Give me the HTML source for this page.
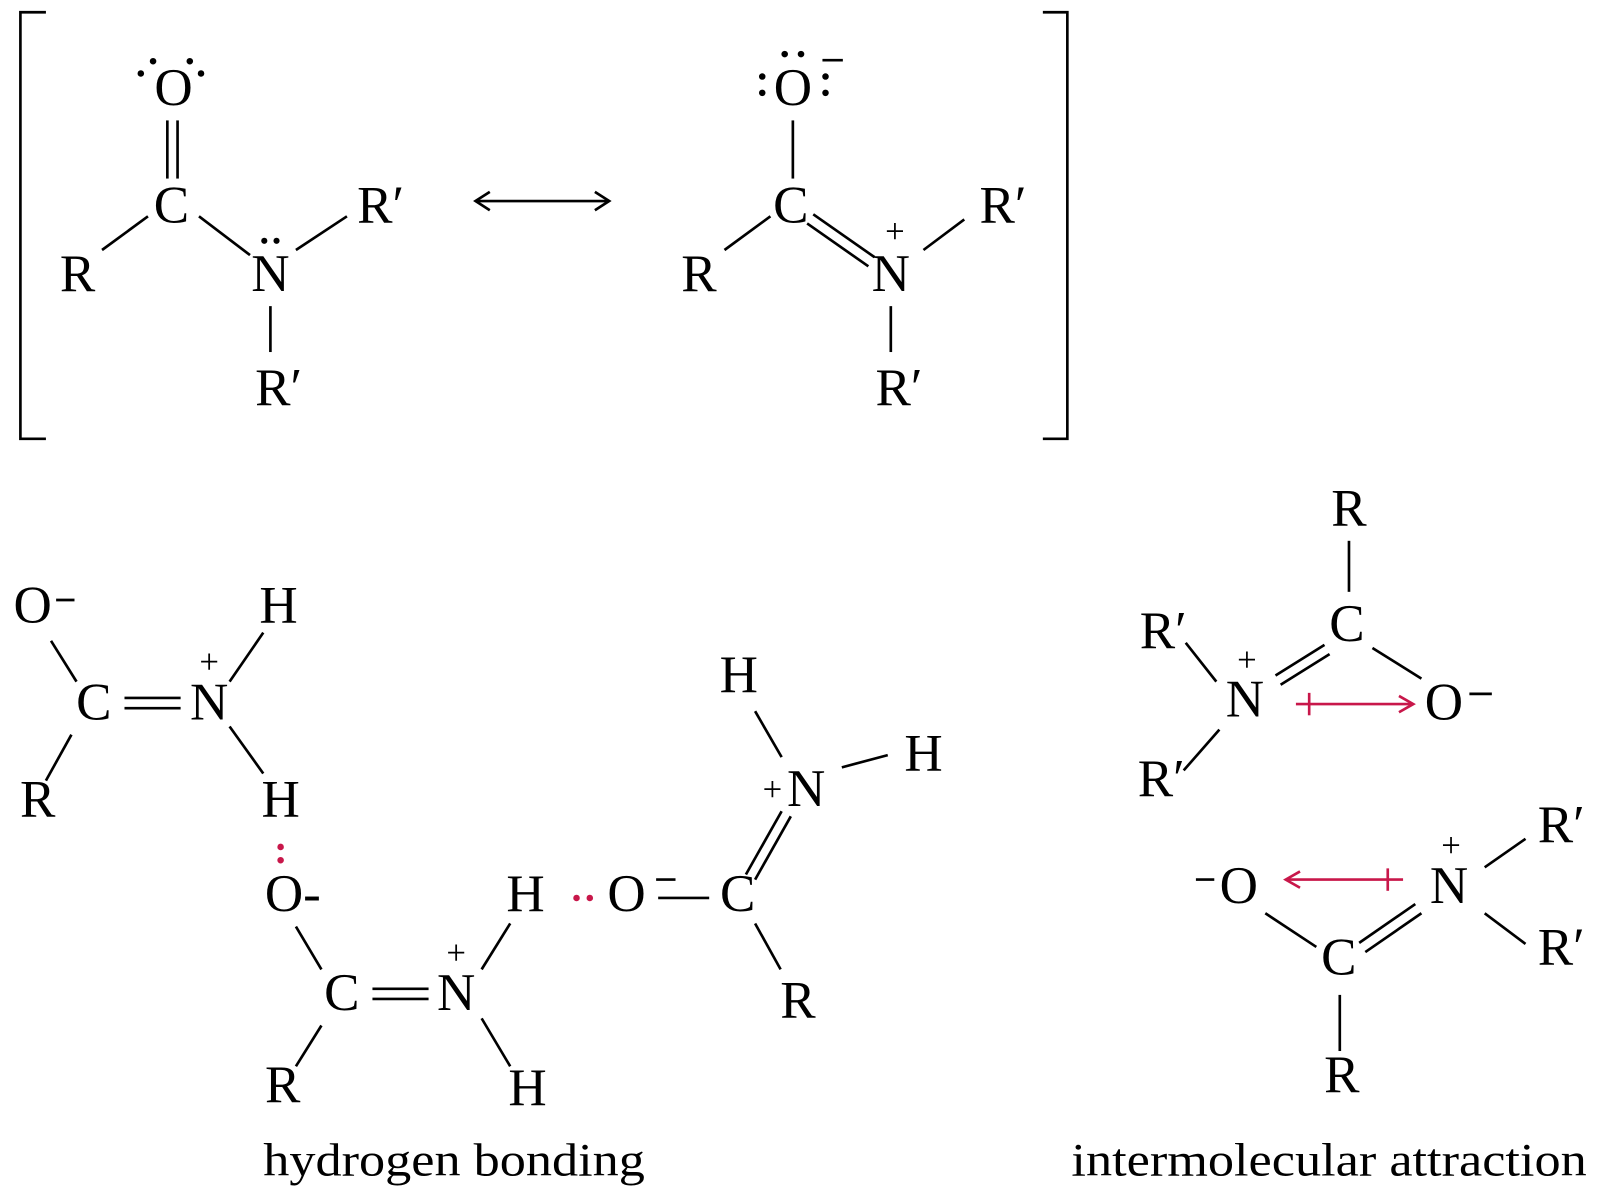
<!DOCTYPE html>
<html><head><meta charset="utf-8"><style>
html,body{margin:0;padding:0;background:#fff;}
svg{display:block;}
text{font-family:"Liberation Serif",serif;font-size:52px;fill:#000;}
.s{font-size:34px;}
.l{font-size:46px;}
line,path{stroke:#000;stroke-width:2.6;fill:none;}
.r{stroke:#c8174a;}
.d{fill:#000;}
.rd{fill:#c8174a;}
</style></head><body>
<svg width="1600" height="1200" viewBox="0 0 1568 1176" xmlns="http://www.w3.org/2000/svg">
<!-- brackets -->
<path d="M45,12 H20 V430 H45"/>
<path d="M1022,12 H1046 V430 H1022"/>

<!-- molecule 1 -->
<text x="170" y="103" text-anchor="middle">O</text>
<circle class="d" cx="138" cy="72" r="3.2"/><circle class="d" cx="150" cy="60" r="3.2"/>
<circle class="d" cx="186" cy="60" r="3.2"/><circle class="d" cx="197" cy="72" r="3.2"/>
<line x1="164" y1="118" x2="164" y2="175"/><line x1="174" y1="118" x2="174" y2="175"/>
<text x="168" y="218" text-anchor="middle">C</text>
<text x="76" y="285" text-anchor="middle">R</text>
<line x1="100" y1="245" x2="145" y2="212"/>
<line x1="195" y1="212" x2="245" y2="250"/>
<text x="265" y="285" text-anchor="middle">N</text>
<circle class="d" cx="259" cy="236" r="3"/><circle class="d" cx="271" cy="236" r="3"/>
<line x1="290" y1="245" x2="340" y2="212"/>
<text x="373" y="218" text-anchor="middle">R′</text>
<line x1="265" y1="300" x2="265" y2="345"/>
<text x="273" y="397" text-anchor="middle">R′</text>

<!-- resonance arrow -->
<line x1="467" y1="197" x2="596" y2="197"/>
<path d="M480,188 L466,197 L480,206"/><path d="M583,188 L597,197 L583,206"/>

<!-- molecule 2 -->
<text x="777" y="103" text-anchor="middle">O</text>
<circle class="d" cx="769" cy="53" r="3.2"/><circle class="d" cx="785" cy="53" r="3.2"/>
<circle class="d" cx="747" cy="75" r="3.2"/><circle class="d" cx="747" cy="91" r="3.2"/>
<circle class="d" cx="809" cy="75" r="3.2"/><circle class="d" cx="809" cy="91" r="3.2"/>
<line x1="806" y1="59" x2="826" y2="59"/>
<line x1="777" y1="118" x2="777" y2="175"/>
<text x="775" y="218" text-anchor="middle">C</text>
<text x="685" y="285" text-anchor="middle">R</text>
<line x1="710" y1="245" x2="755" y2="212"/>
<line x1="797" y1="210" x2="857" y2="252"/><line x1="791" y1="219" x2="851" y2="261"/>
<text x="873" y="285" text-anchor="middle">N</text>
<text class="s" x="877" y="238" text-anchor="middle">+</text>
<line x1="905" y1="245" x2="945" y2="215"/>
<text x="983" y="218" text-anchor="middle">R′</text>
<line x1="873" y1="300" x2="873" y2="345"/>
<text x="881" y="397" text-anchor="middle">R′</text>

<!-- bottom-left molecule A -->
<text x="32" y="610" text-anchor="middle">O</text>
<line x1="55" y1="588" x2="73" y2="588"/>
<line x1="50" y1="628" x2="75" y2="668"/>
<text x="92" y="705" text-anchor="middle">C</text>
<line x1="70" y1="720" x2="45" y2="765"/>
<text x="37" y="800" text-anchor="middle">R</text>
<line x1="122" y1="684" x2="177" y2="684"/><line x1="122" y1="694" x2="177" y2="694"/>
<text x="205" y="705" text-anchor="middle">N</text>
<text class="s" x="205" y="660" text-anchor="middle">+</text>
<line x1="225" y1="668" x2="258" y2="620"/>
<text x="273" y="610" text-anchor="middle">H</text>
<line x1="225" y1="712" x2="258" y2="758"/>
<text x="275" y="800" text-anchor="middle">H</text>
<circle class="rd" cx="275" cy="830" r="3.2"/><circle class="rd" cx="275" cy="843" r="3.2"/>

<!-- molecule B -->
<text x="287" y="893" text-anchor="middle">O-</text>
<line x1="290" y1="908" x2="315" y2="950"/>
<text x="335" y="990" text-anchor="middle">C</text>
<line x1="365" y1="969" x2="420" y2="969"/><line x1="365" y1="979" x2="420" y2="979"/>
<text x="447" y="990" text-anchor="middle">N</text>
<text class="s" x="447" y="945" text-anchor="middle">+</text>
<line x1="472" y1="950" x2="500" y2="905"/>
<text x="515" y="893" text-anchor="middle">H</text>
<line x1="472" y1="998" x2="500" y2="1045"/>
<text x="517" y="1083" text-anchor="middle">H</text>
<line x1="315" y1="1005" x2="290" y2="1045"/>
<text x="277" y="1080" text-anchor="middle">R</text>
<circle class="rd" cx="565" cy="880" r="3.2"/><circle class="rd" cx="578" cy="880" r="3.2"/>

<!-- molecule C -->
<text x="614" y="893" text-anchor="middle">O</text>
<line x1="643" y1="862" x2="662" y2="862"/>
<line x1="645" y1="880" x2="695" y2="880"/>
<text x="723" y="893" text-anchor="middle">C</text>
<line x1="740" y1="905" x2="765" y2="950"/>
<text x="782" y="997" text-anchor="middle">R</text>
<line x1="731" y1="857" x2="766" y2="795"/><line x1="740" y1="862" x2="775" y2="800"/>
<text class="s" x="757" y="785" text-anchor="middle">+</text>
<text x="790" y="790" text-anchor="middle">N</text>
<line x1="766" y1="742" x2="740" y2="697"/>
<text x="724" y="678" text-anchor="middle">H</text>
<line x1="825" y1="752" x2="870" y2="740"/>
<text x="905" y="755" text-anchor="middle">H</text>

<!-- right top -->
<text x="1322" y="515" text-anchor="middle">R</text>
<line x1="1322" y1="530" x2="1322" y2="580"/>
<text x="1320" y="628" text-anchor="middle">C</text>
<line x1="1345" y1="635" x2="1393" y2="665"/>
<text x="1415" y="705" text-anchor="middle">O</text>
<line x1="1440" y1="680" x2="1462" y2="680"/>
<line x1="1298" y1="632" x2="1250" y2="662"/><line x1="1303" y1="641" x2="1255" y2="671"/>
<text x="1220" y="702" text-anchor="middle">N</text>
<text class="s" x="1222" y="658" text-anchor="middle">+</text>
<line x1="1192" y1="668" x2="1162" y2="630"/>
<text x="1140" y="635" text-anchor="middle">R′</text>
<line x1="1195" y1="715" x2="1160" y2="755"/>
<text x="1138" y="780" text-anchor="middle">R′</text>
<line class="r" x1="1270" y1="690" x2="1384" y2="690"/>
<line class="r" x1="1283" y1="679" x2="1283" y2="701"/>
<path class="r" d="M1371,682 L1385,690 L1371,698"/>

<!-- right bottom -->
<line x1="1172" y1="862" x2="1190" y2="862"/>
<text x="1214" y="885" text-anchor="middle">O</text>
<line class="r" x1="1261" y1="862" x2="1375" y2="862"/>
<line class="r" x1="1360" y1="851" x2="1360" y2="873"/>
<path class="r" d="M1274,854 L1260,862 L1274,870"/>
<line x1="1240" y1="895" x2="1290" y2="928"/>
<text x="1312" y="955" text-anchor="middle">C</text>
<line x1="1332" y1="924" x2="1387" y2="886"/><line x1="1338" y1="933" x2="1393" y2="895"/>
<text x="1420" y="885" text-anchor="middle">N</text>
<text class="s" x="1422" y="840" text-anchor="middle">+</text>
<line x1="1455" y1="850" x2="1495" y2="822"/>
<text x="1530" y="825" text-anchor="middle">R′</text>
<line x1="1455" y1="895" x2="1495" y2="925"/>
<text x="1530" y="945" text-anchor="middle">R′</text>
<line x1="1313" y1="975" x2="1313" y2="1030"/>
<text x="1315" y="1070" text-anchor="middle">R</text>

<!-- labels -->
<text class="l" x="258" y="1152" textLength="374" lengthAdjust="spacingAndGlyphs">hydrogen bonding</text>
<text class="l" x="1050" y="1152" textLength="505" lengthAdjust="spacingAndGlyphs">intermolecular attraction</text>
</svg>
</body></html>
